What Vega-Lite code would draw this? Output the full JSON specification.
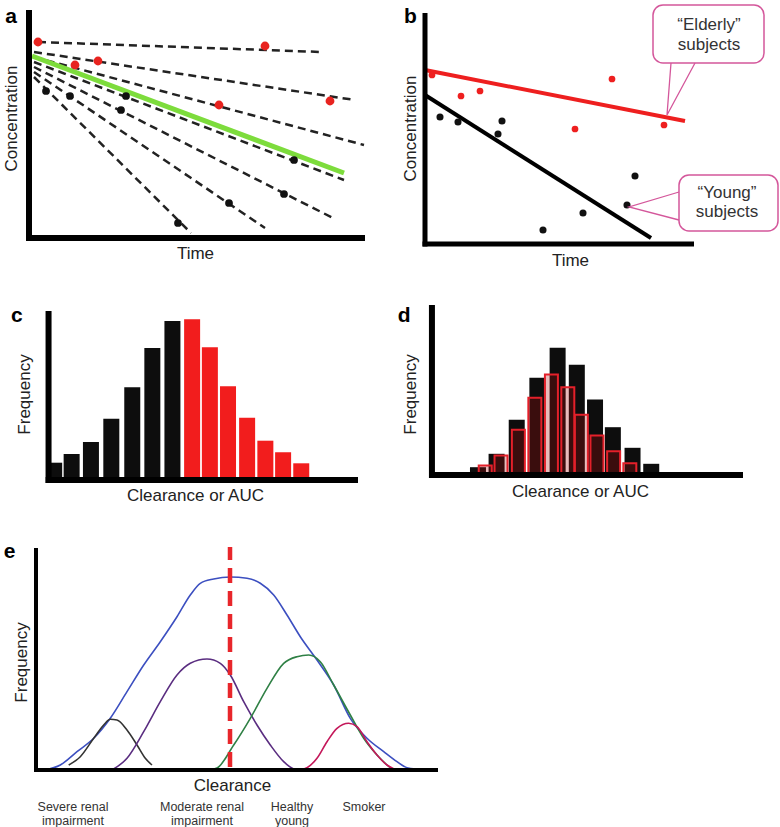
{
"$schema":"https://vega.github.io/schema/vega-lite/v6.json",
"padding":{"left":2,"top":4,"right":0,"bottom":0},
"background":"white",
"bounds":"flush",
"align":"each",
"columns":2,
"spacing":{"row":61,"column":60},
"datasets":{
"aAxes":[{"x":0,"y":-3,"x2":0,"y2":228},{"x":-3,"y":0,"x2":336,"y2":0}],
"aPts":[{"x":9,"y":196,"g":"high"},{"x":46,"y":173,"g":"high"},{"x":69,"y":177,"g":"high"},{"x":236,"y":192,"g":"high"},{"x":190,"y":133,"g":"high"},{"x":301,"y":137,"g":"high"},
{"x":17,"y":147,"g":"low"},{"x":41,"y":142,"g":"low"},{"x":97,"y":142,"g":"low"},{"x":92,"y":128,"g":"low"},{"x":265,"y":78,"g":"low"},{"x":255,"y":44,"g":"low"},{"x":200,"y":35,"g":"low"},{"x":149,"y":15,"g":"low"}],
"aDash":[{"x":9,"y":196,"x2":293,"y2":186},{"x":5,"y":186,"x2":326,"y2":138},{"x":5,"y":181,"x2":335,"y2":93},{"x":5,"y":176,"x2":315,"y2":58},{"x":5,"y":171,"x2":306,"y2":19},{"x":5,"y":166,"x2":236,"y2":10},{"x":5,"y":161,"x2":162,"y2":5}],
"aFit":[{"x":3,"y":182,"x2":315,"y2":65}],
"aLetter":[{"x":-18,"y":214.7,"t":"a"}],
"bAxes":[{"x":0,"y":-2.5,"x2":0,"y2":231},{"x":-2.5,"y":0,"x2":269,"y2":0}],
"bPts":[{"x":7,"y":169,"g":"Elderly"},{"x":36,"y":148,"g":"Elderly"},{"x":55,"y":153,"g":"Elderly"},{"x":187,"y":165,"g":"Elderly"},{"x":150,"y":115,"g":"Elderly"},{"x":239,"y":119,"g":"Elderly"},
{"x":15,"y":127,"g":"Young"},{"x":33,"y":122,"g":"Young"},{"x":77,"y":123,"g":"Young"},{"x":73,"y":110,"g":"Young"},{"x":210,"y":68,"g":"Young"},{"x":202,"y":39,"g":"Young"},{"x":158,"y":31,"g":"Young"},{"x":118,"y":14,"g":"Young"}],
"bFit":[{"x":0,"y":174,"x2":260,"y2":123,"g":"Elderly"},{"x":0,"y":149,"x2":226,"y2":6,"g":"Young"}],
"bBox":[{"x":228,"x2":339,"y":239,"y2":181,"g":"Elderly"},{"x":254,"x2":353,"y":69,"y2":13,"g":"Young"}],
"bTail":[{"g":"Elderly","k":1,"x":246,"y":181},{"g":"Elderly","k":2,"x":242,"y":129},{"g":"Elderly","k":3,"x":270,"y":181},
{"g":"Young","k":1,"x":254,"y":52},{"g":"Young","k":2,"x":204,"y":37},{"g":"Young","k":3,"x":254,"y":24}],
"bText":[{"x":284,"y":219,"t":"“Elderly”"},{"x":284,"y":199,"t":"subjects"},{"x":302,"y":51,"t":"“Young”"},{"x":302,"y":32,"t":"subjects"}],
"bLetter":[{"x":-14.5,"y":221.3,"t":"b"}],
"cAxes":[{"x":0,"y":-3,"x2":0,"y2":169},{"x":-3,"y":0,"x2":319,"y2":0}],
"cBars":[{"x":5.8,"y":17.3,"g":"low"},{"x":23.8,"y":26,"g":"low"},{"x":43.7,"y":38,"g":"low"},{"x":64.7,"y":61.3,"g":"low"},{"x":86.3,"y":92.7,"g":"low"},{"x":107,"y":132,"g":"low"},{"x":127.7,"y":159,"g":"low"},
{"x":148,"y":160.7,"g":"high"},{"x":166.3,"y":132.7,"g":"high"},{"x":185,"y":93.7,"g":"high"},{"x":204.7,"y":62.3,"g":"high"},{"x":223.5,"y":39.3,"g":"high"},{"x":241.8,"y":27.7,"g":"high"},{"x":260.5,"y":16.7,"g":"high"}],
"cLetter":[{"x":-32.8,"y":158.3,"t":"c"}],
"dAxes":[{"x":0,"y":-3,"x2":0,"y2":170},{"x":-3,"y":0,"x2":321,"y2":0}],
"dAll":[{"x":47.5,"y":7.8},{"x":66.7,"y":21.2},{"x":87.5,"y":55.2},{"x":108.8,"y":97.2},{"x":129.7,"y":127.2},{"x":149.5,"y":110.2},{"x":168.3,"y":75.5},{"x":186.7,"y":47.8},{"x":207,"y":27.2},{"x":226.3,"y":11.2}],
"dSub":[{"x":55,"y":9.5},{"x":71.3,"y":19.5},{"x":89.2,"y":45.2},{"x":106.2,"y":77.2},{"x":123.3,"y":100.5},{"x":140.2,"y":87.8},{"x":154.2,"y":60.2},{"x":170.3,"y":39.5},{"x":187.5,"y":23.8},{"x":204.2,"y":11.8}],
"dLetter":[{"x":-28.7,"y":153.3,"t":"d"}],
"eAxes":[{"x":0,"y":-2,"x2":0,"y2":222},{"x":-2,"y":0,"x2":402,"y2":0}],
"eCut":[{"x":194,"y":3,"x2":194,"y2":223}],
"eCurves":[
{"curve":"Total","x":9,"y":0},{"curve":"Total","x":24.3,"y":5},{"curve":"Total","x":41,"y":18.3},{"curve":"Total","x":57.7,"y":31.7},{"curve":"Total","x":74.3,"y":51.7},{"curve":"Total","x":91,"y":78.3},{"curve":"Total","x":107.7,"y":105},{"curve":"Total","x":124.3,"y":128.3},{"curve":"Total","x":141,"y":153.3},{"curve":"Total","x":154.3,"y":175},{"curve":"Total","x":164.3,"y":186.7},{"curve":"Total","x":177.7,"y":191},{"curve":"Total","x":194.3,"y":193},{"curve":"Total","x":211,"y":191.7},{"curve":"Total","x":224.3,"y":186.7},{"curve":"Total","x":237.7,"y":175},{"curve":"Total","x":251,"y":155},{"curve":"Total","x":264.3,"y":133.3},{"curve":"Total","x":281,"y":110},{"curve":"Total","x":297.7,"y":85},{"curve":"Total","x":314.3,"y":51.7},{"curve":"Total","x":331,"y":31.7},{"curve":"Total","x":347.7,"y":18.3},{"curve":"Total","x":361,"y":8.3},{"curve":"Total","x":371,"y":2.3},{"curve":"Total","x":380,"y":1},
{"curve":"Severe","x":32.7,"y":5},{"curve":"Severe","x":44.3,"y":13.3},{"curve":"Severe","x":57.7,"y":31.7},{"curve":"Severe","x":67.7,"y":45},{"curve":"Severe","x":74.3,"y":50.7},{"curve":"Severe","x":81,"y":50},{"curve":"Severe","x":91,"y":40},{"curve":"Severe","x":101,"y":25},{"curve":"Severe","x":109.3,"y":11.7},{"curve":"Severe","x":116,"y":5},
{"curve":"Moderate","x":76,"y":0},{"curve":"Moderate","x":91,"y":11.7},{"curve":"Moderate","x":107.7,"y":38.3},{"curve":"Moderate","x":124.3,"y":68.3},{"curve":"Moderate","x":141,"y":95},{"curve":"Moderate","x":154.3,"y":106.7},{"curve":"Moderate","x":171,"y":111},{"curve":"Moderate","x":184.3,"y":106.7},{"curve":"Moderate","x":194.3,"y":95},{"curve":"Moderate","x":207.7,"y":68.3},{"curve":"Moderate","x":221,"y":45},{"curve":"Moderate","x":234.3,"y":25},{"curve":"Moderate","x":247.7,"y":8.3},{"curve":"Moderate","x":257.7,"y":1},{"curve":"Moderate","x":262,"y":0},
{"curve":"Healthy","x":172,"y":0},{"curve":"Healthy","x":181,"y":2},{"curve":"Healthy","x":197.7,"y":25},{"curve":"Healthy","x":214.3,"y":51.7},{"curve":"Healthy","x":231,"y":81.7},{"curve":"Healthy","x":247.7,"y":106.7},{"curve":"Healthy","x":261,"y":113.3},{"curve":"Healthy","x":272.7,"y":115},{"curve":"Healthy","x":284.3,"y":108.3},{"curve":"Healthy","x":297.7,"y":85},{"curve":"Healthy","x":314.3,"y":55},{"curve":"Healthy","x":327.7,"y":31.7},{"curve":"Healthy","x":341,"y":15},{"curve":"Healthy","x":351,"y":5},{"curve":"Healthy","x":357,"y":0},
{"curve":"Smoker","x":265,"y":0},{"curve":"Smoker","x":271,"y":2.3},{"curve":"Smoker","x":281,"y":11.7},{"curve":"Smoker","x":291,"y":28.3},{"curve":"Smoker","x":301,"y":41.7},{"curve":"Smoker","x":312.7,"y":46.7},{"curve":"Smoker","x":321,"y":43.3},{"curve":"Smoker","x":331,"y":28.3},{"curve":"Smoker","x":341,"y":15},{"curve":"Smoker","x":351,"y":5},{"curve":"Smoker","x":358,"y":1}],
"eLabels":[{"x":37,"y":-40.5,"t":"Severe renal\nimpairment"},{"x":166,"y":-40.5,"t":"Moderate renal\nimpairment"},{"x":256,"y":-40.5,"t":"Healthy\nyoung"},{"x":328,"y":-40.5,"t":"Smoker"}],
"eLetter":[{"x":-26.5,"y":211.7,"t":"e"}]
},
"concat":[
{"width":336,"height":228,
"encoding":{
"x":{"field":"x","type":"quantitative","scale":{"domain":[0,336],"nice":false,"zero":false},"axis":{"title":"Time","titleX":166,"titleY":15}},
"y":{"field":"y","type":"quantitative","scale":{"domain":[0,228],"nice":false,"zero":false},"axis":{"title":"Concentration","titleX":-18,"titleY":108}}},
"layer":[
{"data":{"name":"aDash"},"mark":{"type":"rule","strokeWidth":2.5,"strokeDash":[8,5],"color":"#222222"},"encoding":{"x2":{"field":"x2"},"y2":{"field":"y2"}}},
{"data":{"name":"aFit"},"mark":{"type":"rule","strokeWidth":5,"color":"#7ddc3c"},"encoding":{"x2":{"field":"x2"},"y2":{"field":"y2"}}},
{"data":{"name":"aPts"},"transform":[{"filter":"datum.g == 'high'"}],"mark":{"type":"circle","size":78,"opacity":1,"color":"#e8231f"}},
{"data":{"name":"aPts"},"transform":[{"filter":"datum.g == 'low'"}],"mark":{"type":"circle","size":60,"opacity":1,"color":"#111111"}},
{"data":{"name":"aAxes"},"mark":{"type":"rule","strokeWidth":6,"color":"#000000"},"encoding":{"x2":{"field":"x2"},"y2":{"field":"y2"}}},
{"data":{"name":"aLetter"},"mark":{"type":"text","font":"Liberation Sans","fontSize":21,"fontWeight":"bold","align":"center","baseline":"alphabetic","color":"#000000"},"encoding":{"text":{"field":"t"}}}
]},
{"width":269,"height":234,
"encoding":{
"x":{"field":"x","type":"quantitative","scale":{"domain":[0,269],"nice":false,"zero":false},"axis":{"title":"Time","titleX":145,"titleY":16}},
"y":{"field":"y","type":"quantitative","scale":{"domain":[0,234],"nice":false,"zero":false},"axis":{"title":"Concentration","titleX":-14.5,"titleY":118}}},
"layer":[
{"data":{"name":"bFit"},"transform":[{"filter":"datum.g == 'Elderly'"}],"mark":{"type":"rule","strokeWidth":4,"color":"#ee1f1f"},"encoding":{"x2":{"field":"x2"},"y2":{"field":"y2"}}},
{"data":{"name":"bFit"},"transform":[{"filter":"datum.g == 'Young'"}],"mark":{"type":"rule","strokeWidth":4,"color":"#000000"},"encoding":{"x2":{"field":"x2"},"y2":{"field":"y2"}}},
{"data":{"name":"bPts"},"transform":[{"filter":"datum.g == 'Elderly'"}],"mark":{"type":"circle","size":45,"opacity":1,"color":"#ee1f1f"}},
{"data":{"name":"bPts"},"transform":[{"filter":"datum.g == 'Young'"}],"mark":{"type":"circle","size":50,"opacity":1,"color":"#111111"}},
{"data":{"name":"bBox"},"mark":{"type":"rect","fill":"#ffffff","stroke":"#d4579b","strokeWidth":1.5,"cornerRadius":10},"encoding":{"x2":{"field":"x2"},"y2":{"field":"y2"}}},
{"data":{"name":"bTail"},"mark":{"type":"line","color":"#d4579b","strokeWidth":1.3},"encoding":{"detail":{"field":"g"},"order":{"field":"k"}}},
{"data":{"name":"bText"},"mark":{"type":"text","font":"Liberation Sans","fontSize":17,"align":"center","baseline":"middle","color":"#333333"},"encoding":{"text":{"field":"t"}}},
{"data":{"name":"bAxes"},"mark":{"type":"rule","strokeWidth":5,"color":"#000000"},"encoding":{"x2":{"field":"x2"},"y2":{"field":"y2"}}},
{"data":{"name":"bLetter"},"mark":{"type":"text","font":"Liberation Sans","fontSize":21,"fontWeight":"bold","align":"center","baseline":"alphabetic","color":"#000000"},"encoding":{"text":{"field":"t"}}}
]},
{"width":334,"height":175,
"encoding":{
"x":{"field":"x","type":"quantitative","scale":{"domain":[-15,319],"nice":false,"zero":false},"axis":{"title":"Clearance or AUC","titleX":166,"titleY":15.5}},
"y":{"field":"y","type":"quantitative","scale":{"domain":[0,175],"nice":false,"zero":false},"axis":{"title":"Frequency","titleX":-5,"titleY":89}}},
"layer":[
{"data":{"name":"cBars"},"transform":[{"filter":"datum.g == 'low'"}],"mark":{"type":"bar","width":16,"color":"#0d0d0d"}},
{"data":{"name":"cBars"},"transform":[{"filter":"datum.g == 'high'"}],"mark":{"type":"bar","width":16,"color":"#f21d1d"}},
{"data":{"name":"cAxes"},"mark":{"type":"rule","strokeWidth":6,"color":"#000000"},"encoding":{"x2":{"field":"x2"},"y2":{"field":"y2"}}},
{"data":{"name":"cLetter"},"mark":{"type":"text","font":"Liberation Sans","fontSize":21,"fontWeight":"bold","align":"center","baseline":"alphabetic","color":"#000000"},"encoding":{"text":{"field":"t"}}}
]},
{"width":323,"height":170,
"encoding":{
"x":{"field":"x","type":"quantitative","scale":{"domain":[-2,321],"nice":false,"zero":false},"axis":{"title":"Clearance or AUC","titleX":155,"titleY":16.5}},
"y":{"field":"y","type":"quantitative","scale":{"domain":[0,170],"nice":false,"zero":false},"axis":{"title":"Frequency","titleX":-14.5,"titleY":89}}},
"layer":[
{"data":{"name":"dAll"},"mark":{"type":"bar","width":16,"color":"#0d0d0d"}},
{"data":{"name":"dSub"},"mark":{"type":"bar","width":13,"fill":"#b01010","fillOpacity":0.28,"stroke":"#e4202a","strokeWidth":2}},
{"data":{"name":"dAxes"},"mark":{"type":"rule","strokeWidth":6,"color":"#000000"},"encoding":{"x2":{"field":"x2"},"y2":{"field":"y2"}}},
{"data":{"name":"dLetter"},"mark":{"type":"text","font":"Liberation Sans","fontSize":21,"fontWeight":"bold","align":"center","baseline":"alphabetic","color":"#000000"},"encoding":{"text":{"field":"t"}}}
]},
{"width":336,"height":229,
"encoding":{
"x":{"field":"x","type":"quantitative","scale":{"domain":[-7,329],"nice":false,"zero":false},"axis":{"title":"Clearance","titleX":203,"titleY":15}},
"y":{"field":"y","type":"quantitative","scale":{"domain":[0,229],"nice":false,"zero":false},"axis":{"title":"Frequency","titleX":-8,"titleY":121}}},
"layer":[
{"data":{"name":"eCurves"},"mark":{"type":"line","strokeWidth":1.6,"interpolate":"monotone"},"encoding":{"color":{"field":"curve","type":"nominal","scale":{"domain":["Total","Severe","Moderate","Healthy","Smoker"],"range":["#3c4fc0","#333333","#5a2d80","#2f8045","#c4185a"]},"legend":null},"detail":{"field":"curve"}}},
{"data":{"name":"eCut"},"mark":{"type":"rule","strokeWidth":4.5,"strokeDash":[15,8],"color":"#e8262b"},"encoding":{"x2":{"field":"x2"},"y2":{"field":"y2"}}},
{"data":{"name":"eAxes"},"mark":{"type":"rule","strokeWidth":4,"color":"#000000"},"encoding":{"x2":{"field":"x2"},"y2":{"field":"y2"}}},
{"data":{"name":"eLabels"},"mark":{"type":"text","font":"Liberation Sans","fontSize":12.5,"lineBreak":"\n","lineHeight":14,"align":"center","baseline":"alphabetic","color":"#333333"},"encoding":{"text":{"field":"t"}}},
{"data":{"name":"eLetter"},"mark":{"type":"text","font":"Liberation Sans","fontSize":21,"fontWeight":"bold","align":"center","baseline":"alphabetic","color":"#000000"},"encoding":{"text":{"field":"t"}}}
]}
],
"config":{"view":{"stroke":null},"axis":{"domain":false,"ticks":false,"labels":false,"grid":false,"titleFont":"Liberation Sans","titleFontSize":17,"titleFontWeight":"normal","titleColor":"#222222","titleBaseline":"middle"}}
}
